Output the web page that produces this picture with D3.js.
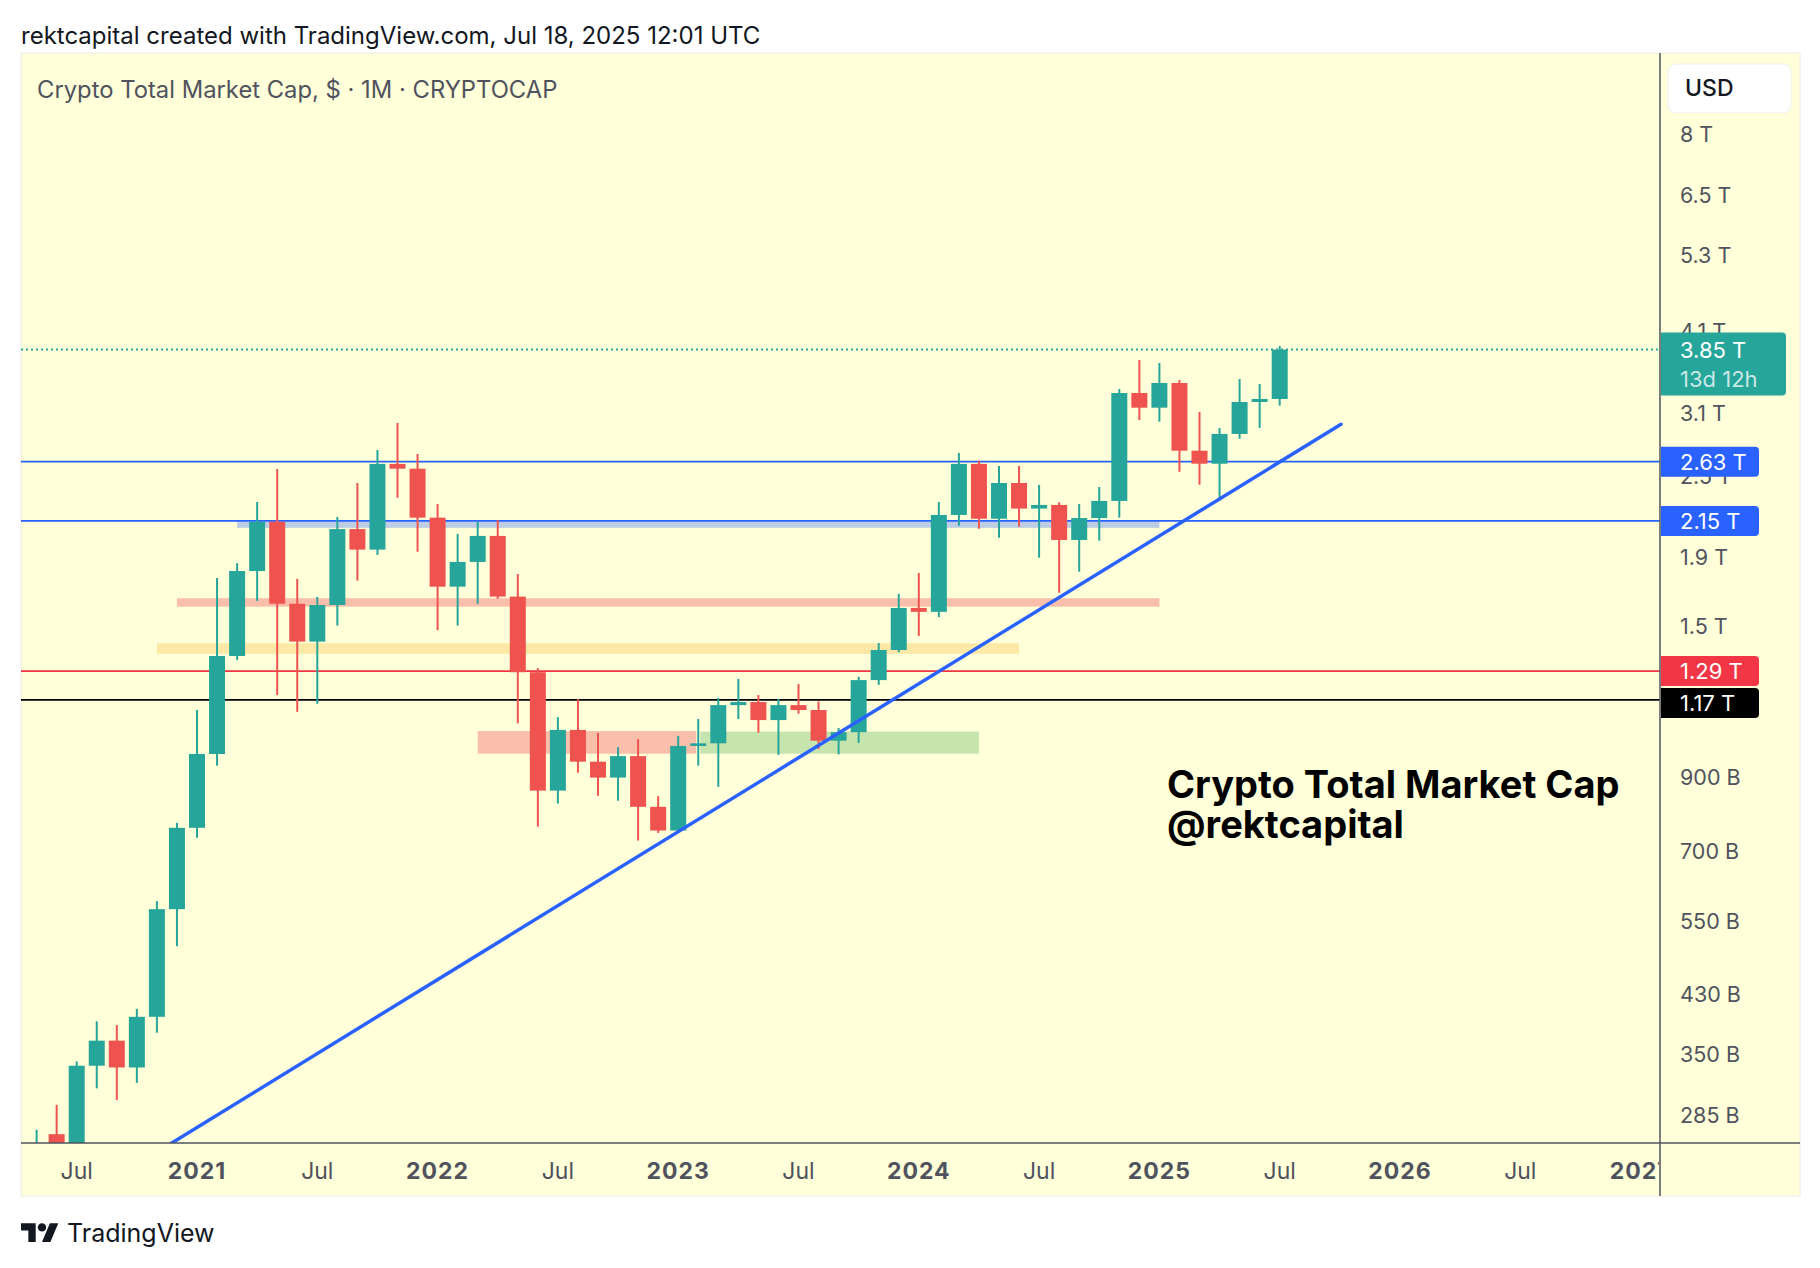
<!DOCTYPE html>
<html><head><meta charset="utf-8">
<script src="https://cdn.jsdelivr.net/npm/d3@7"></script>
<style>html,body{margin:0;padding:0;background:#fff;} svg{display:block;}</style>
</head><body>
<svg id="chart" width="1820" height="1268"></svg>
<script>
// ---------- DATA ----------
const months = ["2020-05","2020-06","2020-07","2020-08","2020-09","2020-10","2020-11","2020-12",
"2021-01","2021-02","2021-03","2021-04","2021-05","2021-06","2021-07","2021-08","2021-09","2021-10","2021-11","2021-12",
"2022-01","2022-02","2022-03","2022-04","2022-05","2022-06","2022-07","2022-08","2022-09","2022-10","2022-11","2022-12",
"2023-01","2023-02","2023-03","2023-04","2023-05","2023-06","2023-07","2023-08","2023-09","2023-10","2023-11","2023-12",
"2024-01","2024-02","2024-03","2024-04","2024-05","2024-06","2024-07","2024-08","2024-09","2024-10","2024-11","2024-12",
"2025-01","2025-02","2025-03","2025-04","2025-05","2025-06","2025-07"];
// values in billions USD
const openV  = [235,267,255,337,367,335,398,574, 757,973,1358,1813,2144,1622,1426,1615,2091,1950,2610,2568,
 2174,1719,1870,2043,1662,1285,859,1056,948,898,966,813, 750,1000,1009,1149,1161,1092,1149,1130,1018,1048,1251,1386,
 1599,1578,2194,2610,2166,2446,2242,2270,2015,2171,2301,3322, 3160,3437,2730,2612,2890,3222,3255];
const highV  = [271,295,342,392,387,409,590,770, 1130,1771,1862,2293,2565,1765,1660,2179,2446,2736,3000,2699,
 2277,2057,2144,2157,1795,1303,1103,1173,1045,996,1024,843, 1035,1096,1177,1256,1189,1173,1234,1163,1063,1265,1419,1677,
 1801,2293,2709,2640,2592,2592,2430,2290,2277,2413,3367,3717, 3679,3471,3114,2950,3484,3425,3898];
const lowV   = [225,245,250,312,300,318,377,506, 732,935,1339,1638,1189,1123,1154,1506,1755,1915,2326,1936,
 1483,1506,1622,1650,1080,760,822,913,844,830,725,744, 745,935,870,1096,1046,970,1116,990,972,1010,1231,1375,
 1454,1550,2115,2093,2031,2108,1897,1684,1809,2010,2174,3030, 3013,2541,2432,2303,2843,2950,3182];
const closeV = [252,255,337,367,335,398,574,757, 973,1358,1813,2144,1622,1426,1615,2091,1950,2610,2568,2174,
 1719,1870,2043,1662,1285,859,1056,948,898,966,813,750, 1000,1009,1149,1161,1092,1149,1130,1018,1048,1251,1386,1599,
 1578,2194,2610,2166,2446,2242,2270,2015,2171,2301,3322,3160, 3437,2730,2612,2890,3222,3255,3850];

const priceTicks = [8000,6500,5300,4100,3100,2500,1900,1500,900,700,550,430,350,285];
const priceTickLabels = ["8 T","6.5 T","5.3 T","4.1 T","3.1 T","2.5 T","1.9 T","1.5 T","900 B","700 B","550 B","430 B","350 B","285 B"];

const timeTicks = ["2020-07","2021-01","2021-07","2022-01","2022-07","2023-01","2023-07","2024-01","2024-07","2025-01","2025-07","2026-01","2026-07","2027-01"];
const timeTickLabels = ["Jul","2021","Jul","2022","Jul","2023","Jul","2024","Jul","2025","Jul","2026","Jul","2027"];

const levelValues = [2630, 2150, 1290, 1170];
const levelLabels = ["2.63 T","2.15 T","1.29 T","1.17 T"];

// zones: start/end month (fractional month index since Jan 2021), low/high in billions
const zoneStart = [2, -1, -2, 14, 25.1];
const zoneEnd   = [48, 48, 41, 24.9, 39];
const zoneLow   = [2100, 1606, 1368, 974, 974];
const zoneHigh  = [2150, 1653, 1418, 1052, 1050];

const trendMonths = [-1.5, 57.06];
const trendValues = [256.5, 2987];

const lastPrice = 3850;
const lastLabel = "3.85 T";
const countdown = "13d 12h";

// ---------- STYLE ----------
const UP = "#26a69a", DOWN = "#ef5350";
const levelColors = ["#2962ff","#2962ff","#f23645","#000000"];
const zoneColors = ["#bccde4","#fabfaa","#fde8a6","#fabfaa","#c6e4ae"];
const BG = "#ffffd9";
const AXIS = "#50535e";
const FONT = "Inter, 'Noto Sans', sans-serif";

const L = 21, R = 1660, T = 53, B = 1143, FR = 1800, FB = 1196;

function mi(s){ const [y,m] = s.split("-").map(Number); return (y-2021)*12 + (m-1); }

const x = d3.scaleLinear().domain([0, 60]).range([197, 197 + 20.05*60]);
const y = d3.scaleLog().domain([8000, 285]).range([134.6, 1115]);

const svg = d3.select("#chart");
svg.append("rect").attr("width",1820).attr("height",1268).attr("fill","#fff");

svg.append("text").attr("x",21).attr("y",35).attr("dy","0.36em")
  .attr("font-family",FONT).attr("font-size",24).attr("fill","#131722")
  .text("rektcapital created with TradingView.com, Jul 18, 2025 12:01 UTC");

svg.append("rect").attr("x",L).attr("y",T).attr("width",FR-L).attr("height",FB-T)
  .attr("fill",BG).attr("stroke","#ececec").attr("stroke-width",1);

const defs = svg.append("defs");
defs.append("clipPath").attr("id","plot").append("rect").attr("x",L).attr("y",T).attr("width",R-L).attr("height",B-T);
defs.append("clipPath").attr("id","timeaxis").append("rect").attr("x",L).attr("y",B).attr("width",R-L-0.75).attr("height",FB-B);

const plot = svg.append("g").attr("clip-path","url(#plot)");

// zones
plot.selectAll("rect.zone").data(zoneStart).join("rect").attr("class","zone")
  .attr("x",(d,i)=>x(d)).attr("width",(d,i)=>x(zoneEnd[i])-x(d))
  .attr("y",(d,i)=>y(zoneHigh[i])).attr("height",(d,i)=>y(zoneLow[i])-y(zoneHigh[i]))
  .attr("fill",(d,i)=>zoneColors[i]);

// horizontal levels
plot.selectAll("line.level").data(levelValues).join("line").attr("class","level")
  .attr("x1",L).attr("x2",R).attr("y1",d=>y(d)).attr("y2",d=>y(d))
  .attr("stroke",(d,i)=>levelColors[i]).attr("stroke-width",1.8);

// candles
const candles = months.map((m,i)=>({m:mi(m),o:openV[i],h:highV[i],l:lowV[i],c:closeV[i]}));
plot.selectAll("line.wick").data(candles).join("line").attr("class","wick")
  .attr("x1",d=>x(d.m)).attr("x2",d=>x(d.m)).attr("y1",d=>y(d.h)).attr("y2",d=>y(d.l))
  .attr("stroke",d=>d.c>=d.o?UP:DOWN).attr("stroke-width",2);
plot.selectAll("rect.body").data(candles).join("rect").attr("class","body")
  .attr("x",d=>x(d.m)-8).attr("width",16)
  .attr("y",d=>y(Math.max(d.o,d.c))).attr("height",d=>Math.max(2,Math.abs(y(d.o)-y(d.c))))
  .attr("fill",d=>d.c>=d.o?UP:DOWN);

// trend line
plot.append("line").attr("x1",x(trendMonths[0])).attr("y1",y(trendValues[0]))
  .attr("x2",x(trendMonths[1])).attr("y2",y(trendValues[1]))
  .attr("stroke","#2962ff").attr("stroke-width",3.5).attr("stroke-linecap","round");

// last price dotted line
plot.append("line").attr("x1",L).attr("x2",R).attr("y1",y(lastPrice)).attr("y2",y(lastPrice))
  .attr("stroke",UP).attr("stroke-width",2).attr("stroke-dasharray","2 3");

// annotation
const ann = svg.append("text").attr("font-family",FONT).attr("font-weight",700).attr("font-size",38).attr("fill","#000");
ann.append("tspan").attr("x",1167).attr("y",798).text("Crypto Total Market Cap");
ann.append("tspan").attr("x",1167).attr("y",838).text("@rektcapital");

// axes lines
svg.append("line").attr("x1",R).attr("x2",R).attr("y1",T).attr("y2",FB).attr("stroke",AXIS).attr("stroke-width",1.5);
svg.append("line").attr("x1",L).attr("x2",FR).attr("y1",B).attr("y2",B).attr("stroke",AXIS).attr("stroke-width",1.5);

// price tick labels
svg.selectAll("text.ptick").data(priceTicks).join("text").attr("class","ptick")
  .attr("x",1680).attr("y",d=>y(d)).attr("dy","0.36em")
  .attr("font-family",FONT).attr("font-size",21.5).attr("fill",AXIS)
  .text((d,i)=>priceTickLabels[i]);

// level label boxes
function rbox(g, x0, y0, w, h, r, fill){
  const p = `M${x0},${y0}H${x0+w-r}Q${x0+w},${y0} ${x0+w},${y0+r}V${y0+h-r}Q${x0+w},${y0+h} ${x0+w-r},${y0+h}H${x0}Z`;
  g.append("path").attr("d",p).attr("fill",fill);
}
const lab = svg.append("g");
const lpY = y(lastPrice);
rbox(lab, R+1, lpY-17, 125, 63, 4, UP);
lab.append("text").attr("x",1680).attr("y",lpY).attr("dy","0.36em").attr("font-family",FONT).attr("font-size",22)
  .attr("fill","#fff").text(lastLabel);
lab.append("text").attr("x",1680).attr("y",lpY+29).attr("dy","0.36em").attr("font-family",FONT).attr("font-size",22)
  .attr("fill","rgba(255,255,255,0.75)").text(countdown);

const boxCenters = levelValues.map(v=>y(v));
for (let i=1;i<boxCenters.length;i++){ if (boxCenters[i]-boxCenters[i-1] < 31) boxCenters[i] = boxCenters[i-1]+32; }
levelValues.forEach((v,i)=>{
  const cy = boxCenters[i];
  rbox(lab, R+1, cy-15, 98, 30, 4, levelColors[i]);
  lab.append("text").attr("x",1680).attr("y",cy).attr("dy","0.36em").attr("font-family",FONT).attr("font-size",22)
    .attr("fill","#fff").text(levelLabels[i]);
});

// USD box
svg.append("rect").attr("x",1668).attr("y",64).attr("width",123).attr("height",49).attr("rx",8)
  .attr("fill","#fff").attr("stroke","#f0f0f0");
svg.append("text").attr("x",1685).attr("y",88).attr("dy","0.36em").attr("font-family",FONT).attr("font-size",23)
  .attr("font-weight",500).attr("fill","#131722").text("USD");

// time tick labels
svg.append("g").attr("clip-path","url(#timeaxis)").selectAll("text").data(timeTicks).join("text")
  .attr("x",d=>x(mi(d))).attr("y",1171).attr("dy","0.36em").attr("text-anchor","middle")
  .attr("font-family",FONT).attr("font-size",23).attr("fill",AXIS)
  .attr("font-weight",(d,i)=>timeTickLabels[i]==="Jul"?400:700)
  .attr("letter-spacing",(d,i)=>timeTickLabels[i]==="Jul"?0:1)
  .text((d,i)=>timeTickLabels[i]);

// chart title
svg.append("text").attr("x",37).attr("y",89).attr("dy","0.36em").attr("font-family",FONT).attr("font-size",23.8)
  .attr("fill","#50535e").text("Crypto Total Market Cap, $ · 1M · CRYPTOCAP");

// footer logo
const logo = svg.append("g").attr("transform","translate(21,1219) scale(1.05)");
logo.append("path").attr("d","M14 22H7V11H0V4h14v18zM28 22h-8l7.5-18h8L28 22z").attr("fill","#131722");
logo.append("circle").attr("cx",20).attr("cy",8).attr("r",4).attr("fill","#131722");
svg.append("text").attr("x",67).attr("y",1233).attr("dy","0.36em").attr("font-family",FONT).attr("font-size",25)
  .attr("fill","#131722").text("TradingView");
</script>
</body></html>
